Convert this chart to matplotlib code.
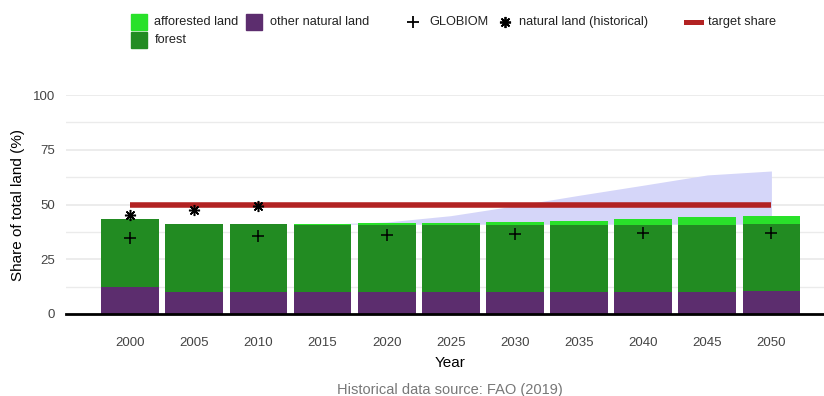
import numpy as np
import matplotlib
matplotlib.use("Agg")
import matplotlib.pyplot as plt
from matplotlib.patches import Rectangle
from matplotlib.lines import Line2D

plt.rcParams["font.family"] = ["Liberation Sans", "DejaVu Sans"]

# values (share of total land, %)
years = ["2000", "2005", "2010", "2015", "2020", "2025", "2030", "2035", "2040", "2045", "2050"]
other_natural = [12.3, 10.0, 10.0, 10.0, 10.0, 10.0, 10.0, 10.0, 10.0, 10.0, 10.5]
forest = [31.1, 31.1, 31.1, 30.6, 30.6, 30.6, 30.6, 30.6, 30.6, 30.6, 30.6]
afforested = [0.0, 0.0, 0.0, 0.5, 0.8, 1.1, 1.4, 1.9, 2.8, 3.7, 3.6]
globiom_idx = [0, 2, 4, 6, 8, 10]
globiom = [34.7, 35.6, 36.2, 36.7, 36.8, 36.8]
hist_idx = [0, 1, 2]
hist_natural = [45.3, 47.5, 49.3]
target = [50, 50, 50, 50, 50, 50, 50, 50, 50, 50, 50]
range_low = [41.0, 41.0, 41.0, 41.0, 41.0, 41.0, 41.0, 41.0, 41.0, 41.0, 41.0]
range_high = [41.0, 41.0, 41.0, 41.0, 42.0, 44.9, 49.4, 54.2, 58.8, 63.5, 65.3]

c_aff = "#29e12a"
c_forest = "#228b22"
c_other = "#5c2d6e"
c_target = "#b22222"
c_range = "#d5d6f9"

W, H = 824, 396
fig = plt.figure(figsize=(W / 100, H / 100), dpi=100)
ax = fig.add_axes([66 / W, (H - 314) / H, (W - 66) / W, (314 - 95) / H])

x = np.arange(len(years))
other = np.array(other_natural)
fo = np.array(forest)

ax.fill_between(x, range_low, range_high, color=c_range, lw=0, zorder=1)
ax.bar(x, other, width=0.9, color=c_other, zorder=2)
ax.bar(x, fo, width=0.9, bottom=other, color=c_forest, zorder=2)
ax.bar(x, afforested, width=0.9, bottom=other + fo, color=c_aff, zorder=2)
ax.plot(x, target, color=c_target, lw=4, solid_capstyle="butt", zorder=3)
ax.plot(np.array(globiom_idx), globiom, ls="none", marker="+", ms=8, mew=1.1, color="black", zorder=4)
ax.plot(np.array(hist_idx), hist_natural, ls="none", marker=(8, 2, 0), ms=8, mew=1.1, color="black", zorder=4)

# gridlines
for v in np.arange(12.5, 101, 12.5):
    ax.axhline(v, color="#ebebeb", lw=1.3 if v % 25 == 0 else 1.0, zorder=0)

ax.set_xlim(-1.0, 10.82)
ax.set_ylim(0, 100)
ax.set_xticks(x)
ax.set_xticklabels(years)
ax.set_yticks([0, 25, 50, 75, 100])
ax.tick_params(axis="both", length=0, labelsize=9.5, colors="#444444")
ax.tick_params(axis="y", pad=7.9)
ax.tick_params(axis="x", pad=16.5)
for s in ["top", "right", "left"]:
    ax.spines[s].set_visible(False)
ax.spines["bottom"].set_color("black")
ax.spines["bottom"].set_linewidth(2)
ax.spines["bottom"].set_zorder(5)

fig.text(18 / W, 1 - 205 / H, "Share of total land (%)", rotation=90, ha="center", va="center", fontsize=11)
fig.text(450 / W, 1 - 363 / H, "Year", ha="center", va="center", fontsize=11)
fig.text(450 / W, 1 - 390 / H, "Historical data source: FAO (2019)", ha="center", va="center", fontsize=10.5, color="#777777")

# legend drawn by hand
def box(px, py, col, label):
    fig.patches.append(Rectangle((px / W, 1 - (py + 8) / H), 15.7 / W, 15.7 / H,
                                 transform=fig.transFigure, color=col))
    fig.text((px + 23.5) / W, 1 - py / H, label, ha="left", va="center", fontsize=9.2, color="#222222")

box(131, 22, c_aff, "afforested land")
box(246, 22, c_other, "other natural land")
box(131, 40, c_forest, "forest")
fig.add_artist(Line2D([413 / W], [1 - 22 / H], marker="+", ms=8, mew=1.3, color="black", transform=fig.transFigure))
fig.text(429 / W, 1 - 22 / H, "GLOBIOM", ha="left", va="center", fontsize=9.2, color="#222222")
fig.add_artist(Line2D([504.7 / W], [1 - 22 / H], marker=(8, 2, 0), ms=8, mew=1.3, color="black", transform=fig.transFigure))
fig.text(519 / W, 1 - 22 / H, "natural land (historical)", ha="left", va="center", fontsize=9.2, color="#222222")
fig.add_artist(Line2D([686 / W, 701 / W], [1 - 22 / H, 1 - 22 / H], lw=3.6, color=c_target, transform=fig.transFigure))
fig.text(708 / W, 1 - 22 / H, "target share", ha="left", va="center", fontsize=9.2, color="#222222")

fig.savefig("out.png", dpi=100)
